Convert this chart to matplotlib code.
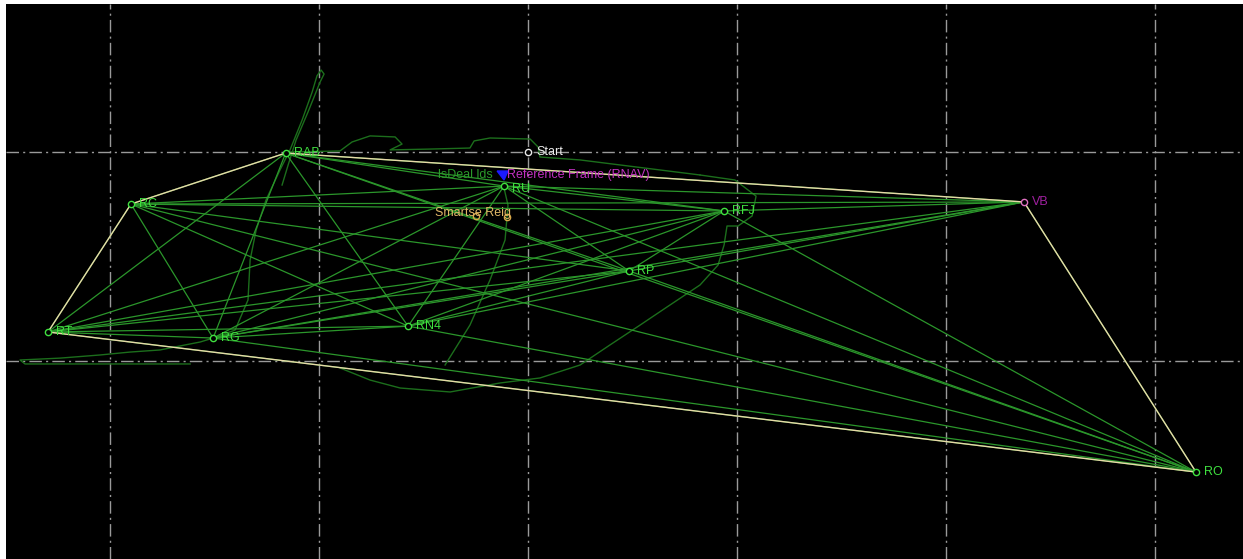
import matplotlib.pyplot as plt
from matplotlib.patches import Polygon
import itertools

# survey points (local metres, Start = origin)
names = ["RAB", "RC", "RT", "RG", "RN4", "RU", "RFJ", "RP", "VB", "RO"]
px = [-116.0, -190.0, -229.7, -150.7, -57.4, -11.5, 93.8, 48.3, 237.3, 319.6]
py = [-0.5, -24.9, -86.1, -89.0, -83.3, -16.3, -28.2, -56.9, -23.9, -153.1]
label_cols = ["#3fe03f"] * 8 + ["#a020a0", "#3fe03f"]

hull = ["RAB", "VB", "RO", "RT", "RC"]

start_x, start_y = 0.0, 0.0

smart_x = [-24.9, -10.0]
smart_y = [-30.6, -31.1]

# recorded track pieces
trackA_x = [-161.7, -240.7, -243.1, -223.9, -204.8, -190.4, -176.1, -164.1, -156.9, -150.7]
trackA_y = [-101.4, -101.4, -99.5, -98.6, -97.1, -95.7, -94.7, -92.3, -90.9, -89.0]
trackB_x = [-150.7, -140.2, -134.0, -133.0, -130.1, -125.4, -118.7, -113.9, -108.1, -103.3,
            -101.0, -99.0, -97.6, -99.5, -105.3, -111.0, -114.8, -117.7]
trackB_y = [-89.0, -85.2, -70.8, -51.7, -37.3, -23.0, -8.6, 1.0, 15.3, 28.7,
            36.4, 39.2, 37.3, 33.5, 19.1, 5.7, -6.2, -15.8]
trackC_x = [-113.9, -90.0, -84.2, -75.6, -63.6, -60.3, -66.0, -46.9, -27.8, -25.8,
            -18.2, 1.0, 4.8, 5.7, 24.9, 44.0, 63.2, 82.3]
trackC_y = [0.0, 0.5, 4.8, 7.7, 7.2, 3.8, 1.0, 1.4, 1.9, 5.3,
            6.7, 6.2, 2.4, -2.4, -3.8, -6.2, -8.6, -11.0]
trackD_x = [82.3, 99.0, 109.1, 107.2, 100.5, 95.2, 93.8, 90.9, 82.3, 67.9, 53.6, 39.2,
            24.9, 5.7, -13.4, -37.3, -61.2, -75.6, -90.0]
trackD_y = [-11.0, -13.4, -21.1, -30.6, -35.4, -35.4, -44.5, -54.1, -63.6, -73.2, -82.8, -92.3,
            -101.9, -108.1, -110.5, -114.8, -112.9, -109.1, -103.3]
trackE_x = [-39.7, -27.8, -18.2, -11.0, -9.6, -11.5]
trackE_y = [-101.9, -82.8, -61.2, -42.1, -25.4, -17.2]

north_x = [-14.8, -9.6, -11.5]
north_y = [-9.1, -9.1, -13.4]

fig = plt.figure(figsize=(12.43, 5.59), dpi=100, facecolor="white")
ax = fig.add_axes([6 / 1243, 0, 1237 / 1243, 555 / 559])
ax.set_facecolor("black")
ax.set_xlim(-249.8, 342.1)
ax.set_ylim(-194.7, 70.8)
ax.set_aspect("auto")

ax.set_xticks(range(-200, 400, 100))
ax.set_yticks([-100, 0])
ax.grid(True, color="#9a9a9a", linewidth=1.0, dashes=(9, 3, 1.5, 3))
ax.tick_params(length=0, labelbottom=False, labelleft=False)
for s in ax.spines.values():
    s.set_visible(False)

# track
for tx, ty in [(trackA_x, trackA_y), (trackB_x, trackB_y), (trackC_x, trackC_y),
               (trackD_x, trackD_y), (trackE_x, trackE_y)]:
    ax.plot(tx, ty, color="#1c6e1c", linewidth=1.0, zorder=2)

# every pair of points
for i, j in itertools.combinations(range(len(names)), 2):
    ax.plot([px[i], px[j]], [py[i], py[j]], color="#2b962b", linewidth=0.9, zorder=3)

# hull
idx = [names.index(n) for n in hull]
ax.add_patch(Polygon([(px[k], py[k]) for k in idx], closed=True, fill=False,
                     edgecolor="#e8d8a8", linewidth=1.0, zorder=4))

ax.add_patch(Polygon(list(zip(north_x, north_y)), closed=True, color="#1a1aff", zorder=5))

# markers and labels
for i, n in enumerate(names):
    mc = "#e070c0" if n == "VB" else "#3fe03f"
    dy = -2 if n == "RU" else 0
    ax.plot(px[i], py[i], "o", ms=4.5, mfc="black", mec=mc, mew=1.0, zorder=6)
    ax.annotate(n, (px[i], py[i]), xytext=(6, dy), textcoords="offset points",
                va="center", ha="left", color=label_cols[i], fontsize=9,
                family="Liberation Sans", zorder=7)

ax.plot(start_x, start_y, "o", ms=4.5, mfc="black", mec="#e8e8e8", mew=1.0, zorder=6)
ax.annotate("Start", (start_x, start_y), xytext=(6, 0), textcoords="offset points",
            va="center", ha="left", color="#eeeeee", fontsize=9, family="Liberation Sans", zorder=7)

ax.plot(smart_x, smart_y, "o", ms=4.5, mfc="none", mec="#d8a848", mew=1.0, zorder=6)
ax.text(-44.5, -29.2, "Smartse Reig", color="#e0b868", fontsize=9, va="center",
        family="Liberation Sans", zorder=7)

ax.text(-43.0, -10.8, "lsDeal lds", color="#2a9a2a", fontsize=9, va="center",
        family="Liberation Sans", zorder=6)
ax.text(-10.0, -10.8, "Reference Frame (RNAV)", color="#c030c0", fontsize=9, va="center",
        family="Liberation Sans", zorder=7)

fig.savefig("out.png", dpi=100, facecolor="white")
